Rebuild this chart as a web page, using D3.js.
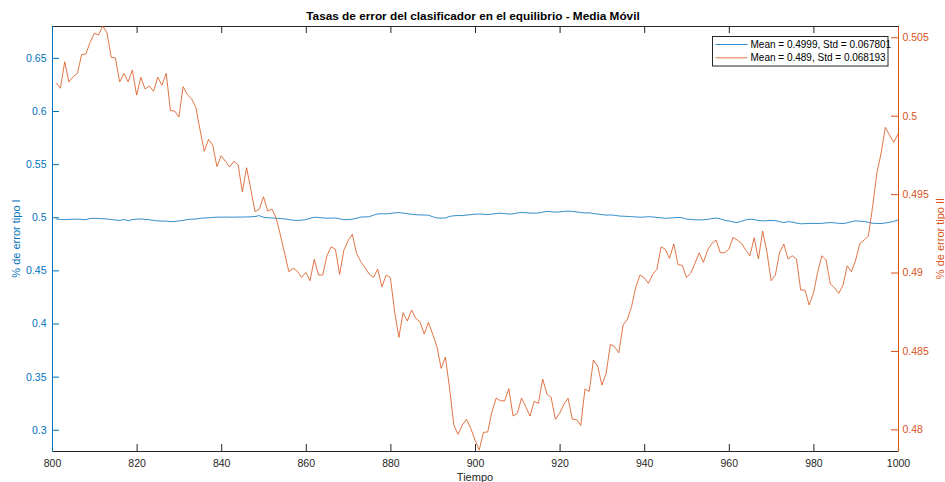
<!DOCTYPE html>
<html>
<head>
<meta charset="utf-8">
<script src="https://cdn.jsdelivr.net/npm/d3@7"></script>
<style>
  body { margin: 0; background: #fff; }
  svg { display: block; font-family: "Liberation Sans", Arial, sans-serif; }
</style>
</head>
<body>
<svg id="chart" width="945" height="482"></svg>
<script>
// Moving-average error rates of the classifier, time steps 801..1000
const times = d3.range(801, 1001);

// Type I error (left axis)
const errorTypeI = [
  0.4982, 0.4980, 0.4978, 0.4979, 0.4981, 0.4982, 0.4980, 0.4977, 0.4988, 0.4990,
  0.4988, 0.4986, 0.4984, 0.4978, 0.4974, 0.4969, 0.4980, 0.4967, 0.4978, 0.4982,
  0.4984, 0.4980, 0.4977, 0.4970, 0.4966, 0.4964, 0.4963, 0.4958, 0.4960, 0.4966,
  0.4970, 0.4978, 0.4982, 0.4983, 0.4990, 0.4993, 0.4995, 0.4998, 0.5001, 0.5001,
  0.5002, 0.5001, 0.5001, 0.5002, 0.5002, 0.5003, 0.5004, 0.5007, 0.5015, 0.5000,
  0.4995, 0.4993, 0.4991, 0.4988, 0.4985, 0.4978, 0.4972, 0.4970, 0.4972, 0.4978,
  0.4990, 0.5000, 0.4998, 0.4994, 0.4991, 0.4992, 0.4993, 0.4985, 0.4977, 0.4978,
  0.4983, 0.4990, 0.5002, 0.5003, 0.5005, 0.5020, 0.5031, 0.5033, 0.5032, 0.5036,
  0.5041, 0.5044, 0.5039, 0.5033, 0.5028, 0.5024, 0.5022, 0.5021, 0.5019, 0.5005,
  0.4993, 0.4992, 0.4993, 0.5008, 0.5014, 0.5016, 0.5016, 0.5020, 0.5025, 0.5029,
  0.5030, 0.5028, 0.5025, 0.5030, 0.5035, 0.5038, 0.5035, 0.5030, 0.5032, 0.5040,
  0.5045, 0.5042, 0.5040, 0.5038, 0.5040, 0.5048, 0.5055, 0.5052, 0.5048, 0.5050,
  0.5055, 0.5058, 0.5055, 0.5050, 0.5045, 0.5040, 0.5042, 0.5035, 0.5030, 0.5025,
  0.5020, 0.5022, 0.5018, 0.5012, 0.5010, 0.5008, 0.5005, 0.5003, 0.5000, 0.5002,
  0.5005, 0.5003, 0.4998, 0.4995, 0.4990, 0.4992, 0.4996, 0.4998, 0.4995, 0.4982,
  0.4980, 0.4976, 0.4975, 0.4976, 0.4980, 0.4988, 0.4992, 0.4985, 0.4972, 0.4965,
  0.4955, 0.4950, 0.4962, 0.4975, 0.4982, 0.4978, 0.4970, 0.4966, 0.4968, 0.4970,
  0.4968, 0.4958, 0.4950, 0.4958, 0.4955, 0.4945, 0.4938, 0.4940, 0.4941, 0.4942,
  0.4941, 0.4943, 0.4947, 0.4950, 0.4947, 0.4943, 0.4941, 0.4948, 0.4958, 0.4966,
  0.4963, 0.4960, 0.4952, 0.4944, 0.4941, 0.4941, 0.4946, 0.4953, 0.4960, 0.4975
];

// Type II error (right axis)
const errorTypeII = [
  0.50210, 0.50175, 0.50344, 0.50215, 0.50249, 0.50270, 0.50389, 0.50394, 0.50466, 0.50526,
  0.50515, 0.50572, 0.50529, 0.50372, 0.50368, 0.50215, 0.50270, 0.50215, 0.50291, 0.50132,
  0.50245, 0.50170, 0.50189, 0.50156, 0.50245, 0.50194, 0.50270, 0.50032, 0.50030, 0.49992,
  0.50185, 0.50134, 0.50108, 0.50054, 0.49909, 0.49773, 0.49849, 0.49811, 0.49675, 0.49745,
  0.49709, 0.49673, 0.49709, 0.49687, 0.49513, 0.49668, 0.49531, 0.49388, 0.49405, 0.49483,
  0.49392, 0.49405, 0.49346, 0.49239, 0.49122, 0.49005, 0.49027, 0.49009, 0.48969, 0.49001,
  0.48948, 0.49084, 0.48984, 0.48984, 0.49107, 0.49164, 0.49148, 0.48988, 0.49143, 0.49203,
  0.49244, 0.49122, 0.49069, 0.49031, 0.48990, 0.48969, 0.49022, 0.48909, 0.48984, 0.48967,
  0.48750, 0.48587, 0.48744, 0.48691, 0.48761, 0.48708, 0.48686, 0.48608, 0.48682, 0.48606,
  0.48527, 0.48389, 0.48461, 0.48261, 0.48027, 0.47968, 0.48027, 0.48064, 0.48006, 0.47932,
  0.47868, 0.47981, 0.47983, 0.48112, 0.48199, 0.48182, 0.48182, 0.48259, 0.48085, 0.48102,
  0.48199, 0.48144, 0.48085, 0.48178, 0.48166, 0.48321, 0.48225, 0.48204, 0.48064, 0.48102,
  0.48159, 0.48198, 0.48064, 0.48064, 0.48025, 0.48257, 0.48242, 0.48442, 0.48404, 0.48282,
  0.48357, 0.48542, 0.48527, 0.48488, 0.48665, 0.48701, 0.48782, 0.48906, 0.48984, 0.48967,
  0.48931, 0.48988, 0.49020, 0.49164, 0.49148, 0.49090, 0.49182, 0.49050, 0.49046, 0.48969,
  0.48995, 0.49059, 0.49126, 0.49065, 0.49143, 0.49186, 0.49207, 0.49126, 0.49126, 0.49148,
  0.49224, 0.49207, 0.49186, 0.49143, 0.49107, 0.49222, 0.49086, 0.49265, 0.49133, 0.48948,
  0.48984, 0.49126, 0.49182, 0.49086, 0.49107, 0.49086, 0.48888, 0.48888, 0.48793, 0.48867,
  0.49001, 0.49107, 0.49080, 0.48927, 0.48903, 0.48867, 0.48920, 0.49043, 0.49005, 0.49080,
  0.49186, 0.49207, 0.49233, 0.49420, 0.49633, 0.49760, 0.49926, 0.49876, 0.49830, 0.49883
];

const xTicks = [800, 820, 840, 860, 880, 900, 920, 940, 960, 980, 1000];
const leftTicks = [0.3, 0.35, 0.4, 0.45, 0.5, 0.55, 0.6, 0.65];
const rightTicks = [0.48, 0.485, 0.49, 0.495, 0.5, 0.505];
const legendLabels = ["Mean = 0.4999, Std = 0.067801", "Mean = 0.489, Std = 0.068193"];
const titleText = "Tasas de error del clasificador en el equilibrio - Media Móvil";
const xLabel = "Tiempo";
const leftLabel = "% de error tipo I";
const rightLabel = "% de error tipo II";

const blue = "#0072BD", orange = "#D95319", axisGray = "#262626";
const plot = { left: 52, right: 898, top: 26, bottom: 451 };
const tickLen = 7;

const svg = d3.select("#chart");

const x = d3.scaleLinear().domain([800, 1000]).range([plot.left, plot.right]);
const yL = d3.scaleLinear().domain([0.28, 0.68]).range([plot.bottom, plot.top]);
const yR = d3.scaleLinear().domain([0.47862, 0.50572]).range([plot.bottom, plot.top]);

function styleAxis(g, color) {
  g.select(".domain").attr("stroke", color).attr("stroke-width", 1);
  g.selectAll(".tick line").attr("stroke", color);
  g.selectAll(".tick text").attr("fill", color)
    .attr("font-family", "Liberation Sans, Arial, sans-serif").attr("font-size", 10.5);
}

// bottom axis with labels
const gx = svg.append("g").attr("transform", `translate(0,${plot.bottom})`)
  .call(d3.axisBottom(x).tickValues(xTicks).tickFormat(d3.format("d"))
    .tickSizeInner(-tickLen).tickSizeOuter(0).tickPadding(8.5));
styleAxis(gx, axisGray);

// top axis (box edge) with inward ticks, no labels
const gt = svg.append("g").attr("transform", `translate(0,${plot.top})`)
  .call(d3.axisTop(x).tickValues(xTicks).tickFormat("")
    .tickSizeInner(-tickLen).tickSizeOuter(0));
styleAxis(gt, axisGray);

// left axis
const gl = svg.append("g").attr("transform", `translate(${plot.left},0)`)
  .call(d3.axisLeft(yL).tickValues(leftTicks).tickFormat(d3.format("~g"))
    .tickSizeInner(-tickLen).tickSizeOuter(0).tickPadding(5.5));
styleAxis(gl, blue);

// right axis
const gr = svg.append("g").attr("transform", `translate(${plot.right},0)`)
  .call(d3.axisRight(yR).tickValues(rightTicks).tickFormat(d3.format("~g"))
    .tickSizeInner(-tickLen).tickSizeOuter(0).tickPadding(4.5));
styleAxis(gr, orange);

// clip for the data lines
svg.append("clipPath").attr("id", "plotClip").append("rect")
  .attr("x", plot.left).attr("y", plot.top - 1)
  .attr("width", plot.right - plot.left).attr("height", plot.bottom - plot.top + 2);

const lineL = d3.line().x((d, i) => x(times[i])).y(d => yL(d));
const lineR = d3.line().x((d, i) => x(times[i])).y(d => yR(d));

svg.append("path").datum(errorTypeI)
  .attr("clip-path", "url(#plotClip)")
  .attr("fill", "none").attr("stroke", blue).attr("stroke-width", 1)
  .attr("stroke-opacity", 0.8).attr("d", lineL);

svg.append("path").datum(errorTypeII)
  .attr("clip-path", "url(#plotClip)")
  .attr("fill", "none").attr("stroke", orange).attr("stroke-width", 1)
  .attr("stroke-opacity", 0.8).attr("d", lineR);

// title
svg.append("text").attr("x", (plot.left + plot.right) / 2 - 2).attr("y", 20)
  .attr("text-anchor", "middle").attr("font-weight", "bold").attr("font-size", 11.8)
  .attr("fill", "#000").text(titleText);

// x label
svg.append("text").attr("x", (plot.left + plot.right) / 2).attr("y", 481)
  .attr("text-anchor", "middle").attr("font-size", 11).attr("fill", axisGray).text(xLabel);

// y labels
svg.append("text")
  .attr("transform", `translate(20,${(plot.top + plot.bottom) / 2}) rotate(-90)`)
  .attr("text-anchor", "middle").attr("font-size", 11).attr("fill", blue).text(leftLabel);

svg.append("text")
  .attr("transform", `translate(944,${(plot.top + plot.bottom) / 2}) rotate(-90)`)
  .attr("text-anchor", "middle").attr("font-size", 11).attr("fill", orange).text(rightLabel);

// legend
const lg = svg.append("g").attr("transform", "translate(712.5,36.5)");
lg.append("rect").attr("width", 175.5).attr("height", 29.5)
  .attr("fill", "#fff").attr("stroke", axisGray).attr("stroke-width", 1);
const legendColors = [blue, orange];
legendLabels.forEach((lab, i) => {
  const yy = 8 + i * 13.3;
  lg.append("line").attr("x1", 3).attr("x2", 35).attr("y1", yy).attr("y2", yy)
    .attr("stroke", legendColors[i]).attr("stroke-width", 1).attr("stroke-opacity", 0.8);
  lg.append("text").attr("x", 38).attr("y", yy).attr("dy", "0.35em")
    .attr("font-size", 10).attr("fill", "#000").text(lab);
});
</script>
</body>
</html>
